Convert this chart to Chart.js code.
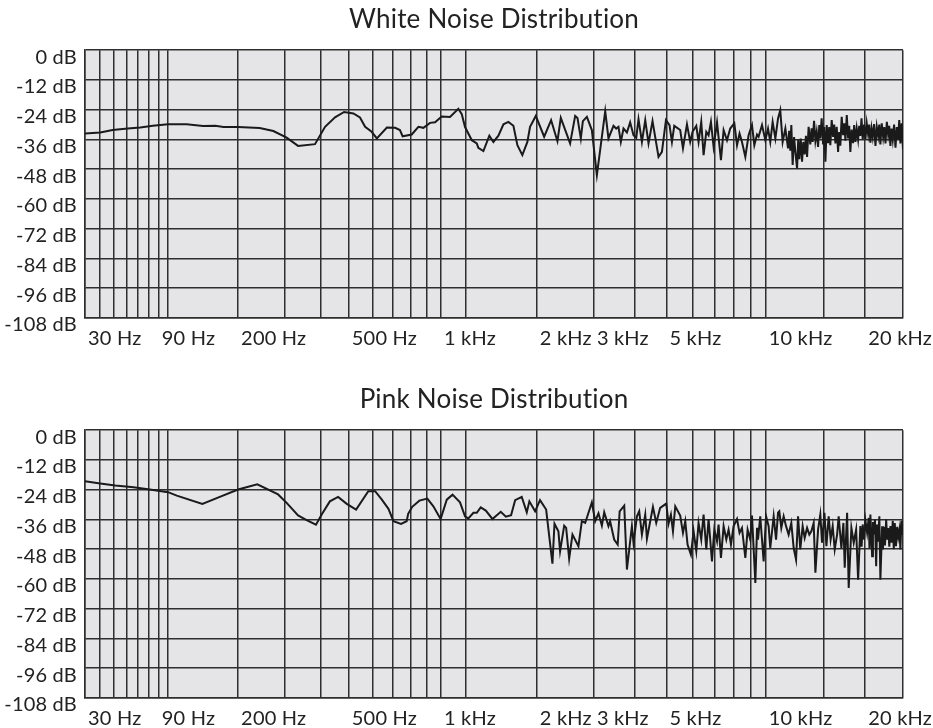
<!DOCTYPE html>
<html>
<head>
<meta charset="utf-8">
<title>Noise Distribution</title>
<script src="https://cdn.jsdelivr.net/npm/chart.js@4/dist/chart.umd.min.js"></script>
<style>
  body { margin: 0; background: #fff; }
  .panel { position: absolute; left: 0; width: 933px; height: 348px; }
</style>
</head>
<body>
<div class="panel" style="top:0"><canvas id="whiteChart" width="933" height="348"></canvas></div>
<div class="panel" style="top:380px"><canvas id="pinkChart" width="933" height="348"></canvas></div>
<script>
  // vertical grid lines (Hz) and the ones that carry a label
  const gridFreqs = [30, 40, 50, 60, 70, 80, 90, 100, 200, 300, 400, 500, 600, 700, 800, 900,
    1000, 1200, 2000, 3000, 4000, 5000, 6000, 7000, 8000, 9000, 10000, 15000, 20000];
  const labelFreqs = [30, 90, 200, 500, 1000, 2000, 3000, 5000, 10000, 20000];
  const dbTicks = [0, -12, -24, -36, -48, -60, -72, -84, -96, -108];
  const freqMin = 30;
  const freqMax = 26000;

  const whiteFreqs = [30, 40, 49, 61, 72, 84, 100, 122, 144, 162, 175, 200, 242, 272, 304, 334, 383, 415, 449, 482,
    518, 545, 567, 596, 620, 669, 712, 738, 753, 806, 847, 879, 923, 958, 1006, 1069, 1136, 1165, 1193, 1253,
    1299, 1314, 1363, 1423, 1465, 1519, 1575, 1632, 1692, 1741, 1804, 1870, 1906, 1986, 2108, 2215, 2317, 2373, 2535, 2628,
    2671, 2735, 2775, 2855, 2957, 3064, 3250, 3325, 3445, 3512, 3568, 3628, 3697, 3787, 3874, 3967, 4044, 4109, 4208, 4308,
    4408, 4534, 4729, 4843, 4982, 5108, 5195, 5281, 5505, 5613, 5772, 5904, 6003, 6161, 6260, 6379, 6484, 6608, 6714, 6826,
    6954, 7122, 7321, 7458, 7637, 7811, 8037, 8190, 8336, 8479, 8679, 8879, 9092, 9242, 9417, 9521, 9750, 9980, 10168, 10329,
    10500, 10701, 10902, 11073, 11257, 11473, 11689, 11780, 11873, 11960, 12070, 12190, 12302, 12447, 12550, 12644, 12770, 12886, 13000, 13125,
    13240, 13346, 13490, 13649, 13770, 13876, 14010, 14142, 14270, 14407, 14530, 14634, 14770, 14919, 15040, 15162, 15300, 15446, 15570, 15689,
    15840, 15994, 16120, 16255, 16400, 16560, 16680, 16820, 16980, 17148, 17290, 17427, 17590, 17755, 17890, 18034, 18200, 18385, 18520, 18684,
    18850, 19034, 19180, 19333, 19490, 19653, 19840, 20030, 20210, 20406, 20560, 20726, 20900, 21070, 21270, 21473, 21670, 21876, 22050, 22220,
    22430, 22652, 22830, 23020, 23240, 23452, 23630, 23820, 24010, 24214, 24440, 24678, 24900, 25141, 25330, 25535, 25760, 26000];
  const whiteDb = [-33.6, -33.2, -32.2, -31.6, -31.2, -30.5, -29.9, -29.9, -30.6, -30.5, -31.0, -31.0, -31.4, -32.6, -35.3, -38.6, -37.9, -30.9, -27.1, -24.9,
    -25.5, -27.1, -30.9, -32.9, -35.6, -31.2, -31.3, -32.2, -34.7, -34.0, -30.9, -31.3, -29.3, -29.1, -26.7, -26.9, -23.6, -25.8, -31.0, -36.3,
    -37.6, -39.4, -40.7, -34.5, -37.0, -34.5, -29.9, -28.9, -30.5, -38.3, -42.3, -37.0, -30.9, -26.5, -34.9, -28.2, -36.7, -27.3, -37.6, -26.5,
    -27.3, -35.6, -28.6, -26.9, -32.2, -50.4, -24.6, -35.6, -30.5, -31.6, -30.9, -37.0, -31.6, -33.2, -29.1, -34.3, -35.3, -27.8, -37.0, -28.2,
    -37.6, -28.6, -43.0, -41.0, -28.2, -30.2, -37.0, -30.5, -32.2, -39.6, -29.9, -37.0, -32.9, -30.5, -37.0, -28.9, -42.3, -32.9, -34.3, -28.9,
    -39.0, -29.1, -44.3, -32.2, -36.3, -31.6, -29.5, -38.3, -33.6, -37.0, -43.0, -34.3, -30.2, -38.3, -34.0, -34.9, -30.2, -36.3, -31.6, -37.0,
    -28.9, -35.6, -27.5, -24.2, -37.0, -31.6, -39.6, -32.5, -40.5, -30.2, -46.3, -35.0, -41.0, -47.7, -36.0, -44.0, -35.6, -45.0, -37.0, -42.0,
    -34.5, -43.0, -30.9, -38.0, -31.5, -37.0, -28.5, -36.5, -32.9, -39.0, -30.2, -35.6, -27.5, -38.0, -31.0, -45.0, -30.2, -37.5, -31.0, -38.3,
    -28.2, -35.0, -30.0, -37.6, -30.9, -41.0, -33.0, -38.5, -26.9, -34.3, -29.5, -36.5, -26.2, -35.6, -30.5, -41.0, -32.0, -37.5, -30.2, -37.0,
    -31.6, -36.0, -30.5, -34.6, -27.5, -36.0, -30.0, -35.9, -29.5, -33.9, -30.0, -37.3, -31.6, -35.0, -29.8, -38.6, -30.9, -34.5, -30.0, -38.0,
    -29.5, -35.0, -31.0, -37.6, -28.9, -34.0, -30.5, -38.6, -31.6, -36.0, -30.0, -39.3, -31.0, -36.0, -28.2, -37.6, -29.5, -40.0];

  const pinkFreqs = [30, 40, 51, 66, 81, 100, 110, 143, 169, 200, 237, 283, 304, 334, 358, 386, 404, 431, 460, 492,
    529, 581, 612, 644, 677, 703, 744, 776, 785, 809, 853, 905, 946, 998, 1044, 1089, 1150, 1193, 1222, 1268,
    1299, 1337, 1387, 1455, 1545, 1603, 1664, 1713, 1796, 1862, 1897, 1976, 2047, 2138, 2236, 2269, 2333, 2361, 2431, 2465,
    2518, 2578, 2689, 2755, 2821, 2957, 3028, 3099, 3174, 3227, 3325, 3364, 3462, 3549, 3598, 3716, 3787, 3922, 3967, 4064,
    4129, 4208, 4308, 4359, 4547, 4654, 4784, 4993, 5073, 5158, 5233, 5318, 5505, 5613, 5704, 5796, 5934, 6046, 6161, 6260,
    6379, 6484, 6608, 6714, 6876, 6989, 7122, 7200, 7321, 7458, 7600, 7721, 7851, 7997, 8190, 8336, 8479, 8679, 8818, 8982,
    9092, 9307, 9417, 9482, 9631, 9861, 10029, 10210, 10329, 10575, 10753, 10902, 10999, 11153, 11337, 11529, 11737, 11959, 12156, 12361,
    12533, 12730, 12941, 13125, 13346, 13557, 13748, 13974, 14142, 14407, 14634, 14813, 15056, 15267, 15510, 15723, 15949, 16175, 16447, 16628,
    16941, 17184, 17342, 17633, 17828, 18164, 18463, 18774, 19034, 19333, 19500, 19653, 19840, 20030, 20266, 20489, 20600, 20726, 20980, 21100,
    21219, 21400, 21578, 21720, 21876, 22060, 22220, 22492, 22620, 22748, 22940, 23132, 23290, 23452, 23640, 23820, 24020, 24214, 24390, 24557,
    24760, 24969, 25160, 25364, 25535, 25718, 26000];
  const pinkDb = [-20.6, -21.5, -22.3, -23.0, -23.9, -25.0, -26.4, -29.7, -26.9, -23.9, -21.8, -25.9, -29.3, -34.4, -36.3, -38.1, -34.0, -28.7, -26.9, -29.7,
    -32.0, -24.6, -24.6, -28.0, -31.7, -36.7, -37.8, -36.7, -33.7, -30.9, -28.4, -27.6, -30.7, -35.8, -28.0, -26.0, -29.1, -34.7, -35.6, -33.3,
    -33.3, -31.1, -32.4, -35.8, -32.9, -34.9, -34.3, -28.2, -26.9, -33.1, -28.7, -32.7, -28.2, -32.0, -53.8, -37.7, -40.8, -48.8, -38.5, -39.4,
    -51.8, -42.1, -46.8, -36.7, -37.4, -29.1, -36.7, -33.5, -38.5, -33.1, -38.7, -36.7, -44.1, -46.1, -32.7, -30.4, -56.2, -38.7, -45.4, -34.7,
    -32.7, -42.1, -34.0, -43.8, -30.9, -37.4, -31.3, -29.6, -37.7, -34.0, -40.8, -30.7, -34.4, -41.4, -36.7, -46.1, -50.2, -40.8, -48.8, -37.4,
    -44.1, -34.0, -48.1, -35.8, -52.9, -40.1, -44.8, -38.1, -51.5, -38.7, -44.1, -40.1, -46.1, -38.7, -35.8, -41.4, -39.4, -51.5, -40.1, -44.1,
    -34.4, -61.6, -39.4, -44.1, -34.7, -52.9, -34.7, -38.7, -47.5, -34.7, -44.1, -33.3, -32.7, -39.4, -34.7, -38.7, -42.1, -37.4, -47.5, -52.2,
    -34.7, -48.1, -38.7, -43.4, -39.4, -42.1, -40.8, -37.4, -57.5, -40.1, -34.0, -45.4, -33.3, -46.8, -34.7, -44.1, -38.7, -48.1, -42.1, -34.7,
    -47.5, -37.4, -55.5, -33.3, -63.6, -39.4, -45.4, -40.1, -60.3, -38.7, -47.0, -38.0, -44.1, -36.5, -41.4, -35.4, -47.5, -34.0, -50.8, -37.0,
    -42.0, -36.0, -54.9, -38.0, -45.0, -34.7, -60.3, -38.7, -48.1, -39.0, -46.5, -36.0, -44.1, -39.5, -47.0, -38.7, -45.4, -36.5, -48.0, -37.4,
    -46.8, -39.0, -43.0, -40.1, -48.1, -36.5, -42.1];

  const FONT = 'Lato';

  // frequency axis is a log scale with a small offset, like the original plot
  function warp(f) {
    return Math.log10(f + 60);
  }

  function freqLabel(f) {
    if (!labelFreqs.includes(f)) return '';
    return f >= 1000 ? (f / 1000) + ' kHz' : f + ' Hz';
  }

  const plotBackground = {
    id: 'plotBackground',
    beforeDraw(chart) {
      const { ctx, chartArea } = chart;
      // a tiny letter spacing keeps Lato from joining "ti"
      ctx.letterSpacing = '0.2px';
      ctx.save();
      ctx.fillStyle = '#e5e5e7';
      ctx.fillRect(chartArea.left, chartArea.top, chartArea.width, chartArea.height);
      ctx.restore();
    }
  };

  function makeChart(id, title, freqs, levels) {
    const ctx = document.getElementById(id).getContext('2d');
    return new Chart(ctx, {
      type: 'line',
      data: {
        datasets: [{
          data: freqs.map((f, i) => ({ x: warp(f), y: levels[i] })),
          borderColor: '#1a1a1a',
          borderWidth: 2,
          pointRadius: 0,
          tension: 0,
          fill: false
        }]
      },
      options: {
        responsive: false,
        animation: false,
        layout: { padding: { left: 0, right: 30, top: 0, bottom: 0 } },
        plugins: {
          legend: { display: false },
          tooltip: { enabled: false },
          title: {
            display: true,
            fullSize: false,
            text: title,
            color: '#222',
            font: { family: FONT, size: 26, weight: 'normal' },
            padding: { top: 4, bottom: 15 }
          }
        },
        scales: {
          x: {
            type: 'linear',
            min: warp(freqMin),
            max: warp(freqMax),
            afterBuildTicks: scale => {
              scale.ticks = gridFreqs.map(f => ({ value: warp(f) }));
              scale.ticks.push({ value: warp(freqMax) });
            },
            afterFit: scale => {
              scale.height = 30;
              scale.paddingLeft = 0;
              scale.paddingRight = 0;
            },
            grid: { color: '#2e2e2e', lineWidth: 1.5, drawTicks: false },
            border: { display: true, color: '#2e2e2e', width: 1.5 },
            ticks: {
              autoSkip: false,
              maxRotation: 0,
              align: 'start',
              padding: 9,
              labelOffset: 3,
              color: '#222',
              font: { family: FONT, size: 20 },
              callback: (v, i) => freqLabel(gridFreqs[i])
            }
          },
          y: {
            min: -108,
            max: 0,
            afterBuildTicks: scale => {
              scale.ticks = dbTicks.map(v => ({ value: v }));
            },
            afterFit: scale => {
              scale.width = 85;
              scale.paddingTop = 0;
              scale.paddingBottom = 0;
            },
            grid: { color: '#2e2e2e', lineWidth: 1.5, drawTicks: false },
            border: { display: true, color: '#2e2e2e', width: 1.5 },
            ticks: {
              padding: 8,
              labelOffset: 7,
              color: '#222',
              font: { family: FONT, size: 20 },
              callback: v => v + ' dB'
            }
          }
        }
      },
      plugins: [plotBackground]
    });
  }

  document.addEventListener('DOMContentLoaded', function() {
    makeChart('whiteChart', 'White Noise Distribution', whiteFreqs, whiteDb);
    makeChart('pinkChart', 'Pink Noise Distribution', pinkFreqs, pinkDb);
  });
</script>
</body>
</html>
